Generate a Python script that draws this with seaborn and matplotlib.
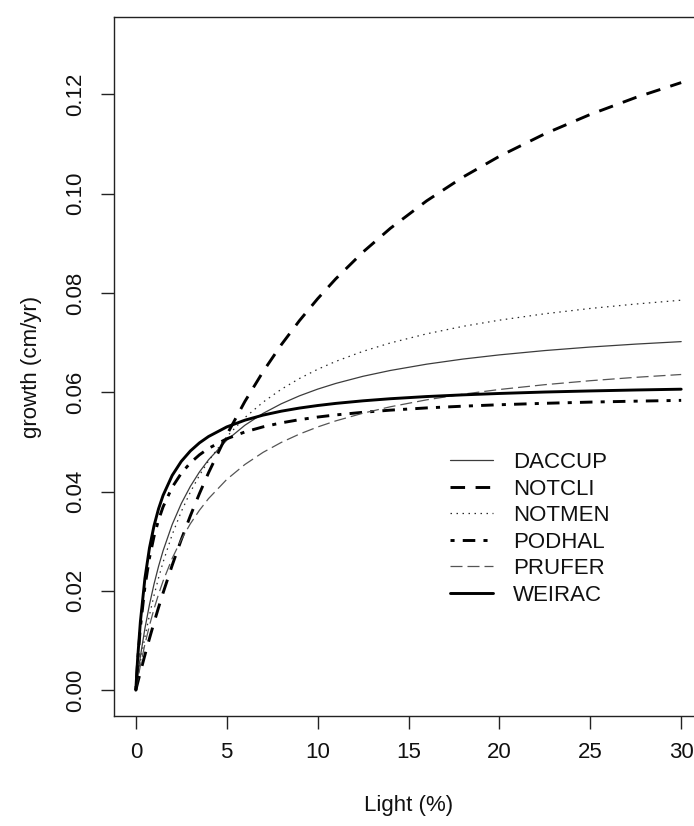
import matplotlib
matplotlib.use("Agg")
import matplotlib.pyplot as plt
import seaborn as sns
import pandas as pd

# Light levels (%) at which each fitted growth curve is tabulated
light = [0, 0.1, 0.25, 0.5, 0.75, 1, 1.25, 1.5, 2, 2.5, 3, 3.5, 4, 5, 6, 7, 8, 9, 10,
         11, 12.5, 14, 16, 18, 20, 22.5, 25, 27.5, 30]

# Growth (cm/yr) for each species
daccup = [0, 0.00285, 0.00676, 0.01241, 0.01721, 0.02134, 0.02493, 0.02808, 0.03335, 0.03757,
          0.04104, 0.04394, 0.04639, 0.05033, 0.05335, 0.05574, 0.05767, 0.05927, 0.06062,
          0.06177, 0.06321, 0.06438, 0.06565, 0.06668, 0.06752, 0.06839, 0.06910, 0.06969, 0.07019]
notcli = [0, 0.00146, 0.00361, 0.00708, 0.01040, 0.01359, 0.01665, 0.01959, 0.02515, 0.03031,
          0.03511, 0.03959, 0.04378, 0.05140, 0.05814, 0.06415, 0.06955, 0.07441, 0.07882,
          0.08284, 0.08824, 0.09300, 0.09854, 0.10333, 0.10751, 0.11204, 0.11594, 0.11935, 0.12235]
notmen = [0, 0.00237, 0.00568, 0.01068, 0.01510, 0.01905, 0.02259, 0.02578, 0.03132, 0.03595,
          0.03988, 0.04326, 0.04619, 0.05104, 0.05489, 0.05800, 0.06059, 0.06276, 0.06461,
          0.06621, 0.06824, 0.06992, 0.07176, 0.07327, 0.07451, 0.07580, 0.07687, 0.07776, 0.07853]
podhal = [0, 0.00576, 0.01258, 0.02082, 0.02662, 0.03094, 0.03427, 0.03692, 0.04087, 0.04367,
          0.04577, 0.04739, 0.04869, 0.05062, 0.05200, 0.05303, 0.05383, 0.05447, 0.05500,
          0.05543, 0.05596, 0.05639, 0.05684, 0.05719, 0.05748, 0.05777, 0.05801, 0.05820, 0.05836]
prufer = [0, 0.00206, 0.00494, 0.00924, 0.01301, 0.01634, 0.01931, 0.02197, 0.02654, 0.03033,
          0.03351, 0.03623, 0.03858, 0.04243, 0.04545, 0.04789, 0.04989, 0.05157, 0.05300,
          0.05423, 0.05578, 0.05707, 0.05847, 0.05961, 0.06055, 0.06152, 0.06232, 0.06300, 0.06357]
weirac = [0, 0.00633, 0.01373, 0.02251, 0.02861, 0.03309, 0.03652, 0.03923, 0.04324, 0.04607,
          0.04817, 0.04980, 0.05108, 0.05301, 0.05437, 0.05539, 0.05618, 0.05681, 0.05732,
          0.05775, 0.05827, 0.05869, 0.05913, 0.05947, 0.05975, 0.06004, 0.06026, 0.06045, 0.06061]

species = ["DACCUP", "NOTCLI", "NOTMEN", "PODHAL", "PRUFER", "WEIRAC"]
growth = [daccup, notcli, notmen, podhal, prufer, weirac]

x_ticks = [0, 5, 10, 15, 20, 25, 30]
y_ticks = [0.00, 0.02, 0.04, 0.06, 0.08, 0.10, 0.12]

# line appearance per species: (colour, width, dash pattern)
styles = {
    "DACCUP": ("#3c3c3c", 0.9, "-"),
    "NOTCLI": ("black", 2.1, (0, (5.0, 3.6))),
    "NOTMEN": ("#2a2a2a", 0.9, (0, (1.2, 3.6))),
    "PODHAL": ("black", 2.1, (0, (1.4, 2.8, 4.3, 2.8))),
    "PRUFER": ("#555555", 0.9, (0, (9.6, 4.0))),
    "WEIRAC": ("black", 2.1, "-"),
}

df = pd.concat(
    [pd.DataFrame({"light": light, "growth": g, "species": s}) for s, g in zip(species, growth)],
    ignore_index=True,
)

sns.set_style("ticks")
plt.rcParams["font.family"] = ["Liberation Sans", "DejaVu Sans"]
plt.rcParams["font.size"] = 16

W, H = 694, 826
fig = plt.figure(figsize=(W / 100, H / 100), dpi=100)
left, right, top, bottom = 114, 703, 17.3, 716
ax = fig.add_axes([left / W, (H - bottom) / H, (right - left) / W, (bottom - top) / H])

for s in species:
    col, lw, ls = styles[s]
    sns.lineplot(data=df[df["species"] == s], x="light", y="growth", ax=ax,
                 color=col, linewidth=lw, linestyle=ls, label=s,
                 estimator=None, sort=True, dash_capstyle="butt")

ax.set_xlim(-1.2, 31.2)
ax.set_ylim(-0.0052, 0.1355)
ax.set_xticks(x_ticks)
ax.set_xticklabels([str(t) for t in x_ticks])
ax.set_yticks(y_ticks)
ax.set_yticklabels([f"{t:.2f}" for t in y_ticks], rotation=90, va="center")

for sp in ax.spines.values():
    sp.set_visible(True)
    sp.set_linewidth(1.0)
    sp.set_color("#222222")

ax.tick_params(axis="both", direction="out", length=9.4, width=1.0, color="#222222",
               labelsize=16, labelcolor="#111111")
ax.tick_params(axis="x", pad=9.0)
ax.tick_params(axis="y", pad=11.0)

ax.set_xlabel("Light (%)", fontsize=16, color="#111111", va="center")
ax.set_ylabel("growth (cm/yr)", fontsize=16, color="#111111", va="center")
ax.xaxis.set_label_coords(0.5, (bottom - 806) / (bottom - top))
ax.yaxis.set_label_coords((32 - left) / (right - left), 0.5)

leg = ax.legend(loc="upper left", bbox_to_anchor=(450 / W, 1 - 452 / H),
                bbox_transform=fig.transFigure, frameon=False, fontsize=16,
                handlelength=1.94, handletextpad=0.9, labelspacing=0.25,
                borderpad=0, borderaxespad=0)
for t in leg.get_texts():
    t.set_color("#111111")

fig.savefig("out.png", dpi=100, facecolor="white")
